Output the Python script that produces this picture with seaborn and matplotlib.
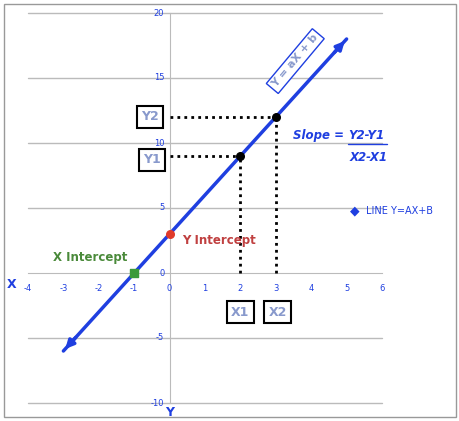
import matplotlib
matplotlib.use("Agg")
import matplotlib.pyplot as plt
import seaborn as sns
import numpy as np
import pandas as pd

sns.set_style("white")
plt.rcParams['font.family'] = ['DejaVu Sans']

line_x = [-3, 5]
line_y = [-6, 18]
x_int = (-1, 0)
y_int = (0, 3)
p1 = (2, 9)
p2 = (3, 12)
x_ticks = [-4, -3, -2, -1, 0, 1, 2, 3, 4, 5, 6]
y_ticks = [-10, -5, 0, 5, 10, 15, 20]

blue = "#1f3fe0"
fig = plt.figure(figsize=(4.6, 4.21), dpi=100)
ax = fig.add_axes([28/460, 18/421, 354/460, 390/421])
ax.set_xlim(-4, 6)
ax.set_ylim(-10, 20)
for y in y_ticks:
    if y != 0:
        ax.axhline(y, color="#bbbbbb", lw=1, zorder=0, clip_on=False)
for s in ["top", "right"]:
    ax.spines[s].set_visible(False)
ax.spines["left"].set_position(("data", 0))
ax.spines["bottom"].set_position(("data", 0))
ax.spines["left"].set_color("#bbbbbb")
ax.spines["bottom"].set_color("#bbbbbb")
ax.set_xticks(x_ticks)
ax.set_yticks(y_ticks)
ax.tick_params(colors=blue, labelsize=6, length=0)
ax.set_xticklabels([])
ax.set_yticklabels([])
for x in x_ticks:
    ax.text(x, -1.2, str(x), color=blue, fontsize=6, ha="center", va="center")
for y in y_ticks:
    ax.text(-0.15, y, str(y), color=blue, fontsize=6, ha="right", va="center")

df = pd.DataFrame({"x": line_x, "y": line_y})
sns.lineplot(data=df, x="x", y="y", ax=ax, color=blue, lw=2.5)
ax.annotate("", xy=(line_x[1], line_y[1]), xytext=(4.6, 16.8),
            arrowprops=dict(arrowstyle="-|>", color=blue, lw=2.5, mutation_scale=12))
ax.annotate("", xy=(line_x[0], line_y[0]), xytext=(-2.6, -4.8),
            arrowprops=dict(arrowstyle="-|>", color=blue, lw=2.5, mutation_scale=12))
ax.set_xlabel(""); ax.set_ylabel("")

for (px, py) in [p1, p2]:
    ax.plot([px, px], [0, py], ls=(0, (1, 1.5)), color="black", lw=2, zorder=3)
    ax.plot([0, px], [py, py], ls=(0, (1, 1.5)), color="black", lw=2, zorder=3)
    ax.scatter([px], [py], color="black", s=30, zorder=5)
ax.scatter([x_int[0]], [x_int[1]], marker="s", color="#3a9a3a", s=35, zorder=5)
ax.scatter([y_int[0]], [y_int[1]], marker="o", color="#e03a2a", s=30, zorder=5)

box = dict(boxstyle="square,pad=0.35", fc="white", ec="black", lw=1.5)
lab = "#8899cc"
ax.text(-0.55, 12, "Y2", color=lab, fontsize=9, fontweight="bold", ha="center", va="center", bbox=box)
ax.text(-0.5, 8.7, "Y1", color=lab, fontsize=9, fontweight="bold", ha="center", va="center", bbox=box)
ax.text(2, -3.0, "X1", color=lab, fontsize=9, fontweight="bold", ha="center", va="center", bbox=box)
ax.text(3.05, -3.0, "X2", color=lab, fontsize=9, fontweight="bold", ha="center", va="center", bbox=box)
ax.text(3.55, 16.3, "Y = aX + b", color=lab, fontsize=8, fontweight="bold", rotation=50,
        ha="center", va="center", bbox=dict(boxstyle="square,pad=0.25", fc="white", ec=blue, lw=1))
ax.text(5.05, 10.6, "Slope = ", color=blue, fontsize=8.5, fontweight="bold", style="italic", ha="right", va="center")
ax.text(5.05, 10.6, "Y2-Y1", color=blue, fontsize=8.5, fontweight="bold", style="italic", ha="left", va="center")
ax.plot([5.05, 6.15], [9.95, 9.95], color=blue, lw=1, clip_on=False)
ax.text(6.15, 8.9, "X2-X1", color=blue, fontsize=8.5, fontweight="bold", style="italic", ha="right", va="center")
ax.text(-3.3, 1.2, "X Intercept", color="#4a8a3a", fontsize=8.5, fontweight="bold", va="center")
ax.text(0.35, 2.5, "Y Intercept", color="#c04040", fontsize=8.5, fontweight="bold", va="center")
ax.text(-4.45, -0.9, "X", color=blue, fontsize=9, fontweight="bold", ha="center", va="center", clip_on=False)
ax.text(0, -10.7, "Y", color=blue, fontsize=9, fontweight="bold", ha="center", va="center", clip_on=False)

fig.text(350/460, 1 - 211/421, "\u25c6", color=blue, fontsize=9, va="center")
fig.text(366/460, 1 - 211/421, "LINE Y=AX+B", color=blue, fontsize=7, va="center")
fig.patches.append(plt.Rectangle((4/460, 4/421), 452/460, 413/421, transform=fig.transFigure,
                                 fill=False, ec="#999999", lw=1))
fig.savefig("out.png", dpi=100)
